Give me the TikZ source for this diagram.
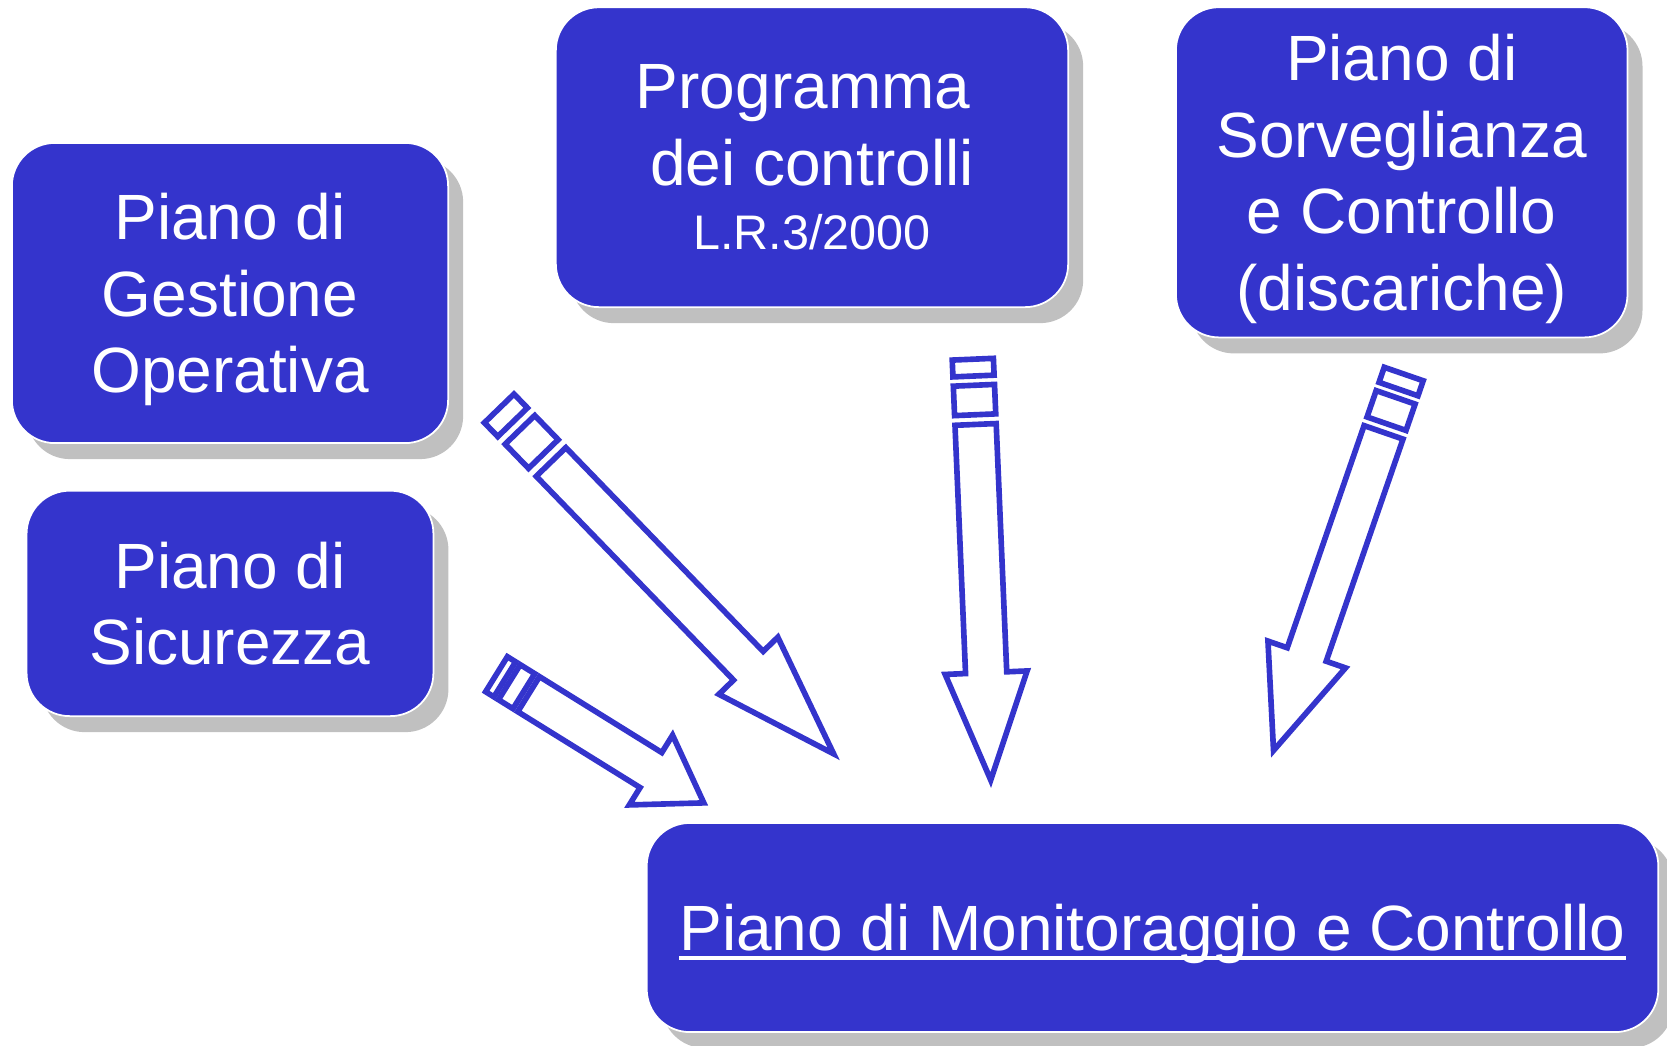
\documentclass[tikz,border=0pt]{standalone}
\usepackage{fontspec}
\setmainfont{Liberation Sans}
\usetikzlibrary{calc,shadows}

\definecolor{boxblue}{RGB}{52,52,204}
\definecolor{shadowgray}{RGB}{192,192,192}

\newsavebox{\ulbox}
\newcommand{\ulinetext}[1]{\sbox{\ulbox}{#1}\rlap{\rule[-2.6pt]{\wd\ulbox}{1.1pt}}\usebox{\ulbox}}

\newcommand{\stripedarrow}[2]{%
  \path let \p1=($(#2)-(#1)$) in \pgfextra{%
    \pgfmathsetmacro{\arrlen}{veclen(\x1,\y1)}%
    \pgfmathsetmacro{\arrang}{atan2(\y1,\x1)}%
    \global\let\arrlen\arrlen\global\let\arrang\arrang};
  \begin{scope}[shift={(#1)}, rotate=\arrang]
    \pgfmathsetmacro{\stA}{0.04*\arrlen}
    \pgfmathsetmacro{\stB}{0.062*\arrlen}
    \pgfmathsetmacro{\stC}{0.132*\arrlen}
    \pgfmathsetmacro{\stD}{0.155*\arrlen}
    \pgfmathsetmacro{\stE}{0.745*\arrlen}
    \draw[stripe] (0pt,-0.206cm) rectangle (\stA pt,0.206cm);
    \draw[stripe] (\stB pt,-0.206cm) rectangle (\stC pt,0.206cm);
    \draw[stripe] (\stD pt,-0.206cm) -- (\stE pt,-0.206cm) -- (\stE pt,-0.41cm) -- (\arrlen pt,0pt)
      -- (\stE pt,0.41cm) -- (\stE pt,0.206cm) -- (\stD pt,0.206cm) -- cycle;
  \end{scope}}

\tikzset{
  panel/.style={rectangle, rounded corners=0.43cm, fill=boxblue, draw=white, line width=0.5pt,
    text=white, align=center, inner sep=0pt, text depth=0pt, font=\fontsize{18.2}{21.8}\selectfont,
    drop shadow={shadow xshift=0.15cm, shadow yshift=-0.16cm, fill=shadowgray, opacity=1}},
  stripe/.style={draw=boxblue, fill=white, line width=1.6pt}
}

\begin{document}
\begin{tikzpicture}[x=0.01cm, y=0.01cm]

\useasboundingbox (0,0) rectangle (1667,-1045);

\node[panel, minimum width=4.36cm, minimum height=3cm] (gestione) at (230,-293) {Piano di\\Gestione\\Operativa};
\node[panel, minimum width=4.066cm, minimum height=2.253cm] (sicurezza) at (230,-603.4) {Piano di\\Sicurezza};
\node[panel, minimum width=5.12cm, minimum height=2.997cm] (programma) at (812,-157.2) {Programma\kern0.278em\\dei controlli\\[-3.6pt]{\fontsize{13.8}{16}\selectfont L.R.3/2000}};
\node[panel, minimum width=4.513cm, minimum height=3.3cm] (sorveglianza) at (1401.7,-172.3) {Piano di\\Sorveglianza\\e Controllo\\(discariche)};
\node[panel, minimum width=10.11cm, minimum height=2.09cm] (monitoraggio) at (1152.5,-927.5) {\ulinetext{Piano di Monitoraggio e Controllo}};

\coordinate (gesT) at (499.2,-408.4);
\coordinate (gesH) at (834.5,-754.7);
\coordinate (sicT) at (496.5,-674.2);
\coordinate (sicH) at (704,-803);
\coordinate (proT) at (972.8,-359.2);
\coordinate (proH) at (990.7,-780);
\coordinate (sorT) at (1403.7,-374);
\coordinate (sorH) at (1273.5,-750.5);

\stripedarrow{gesT}{gesH}
\stripedarrow{sicT}{sicH}
\stripedarrow{proT}{proH}
\stripedarrow{sorT}{sorH}

\end{tikzpicture}
\end{document}
